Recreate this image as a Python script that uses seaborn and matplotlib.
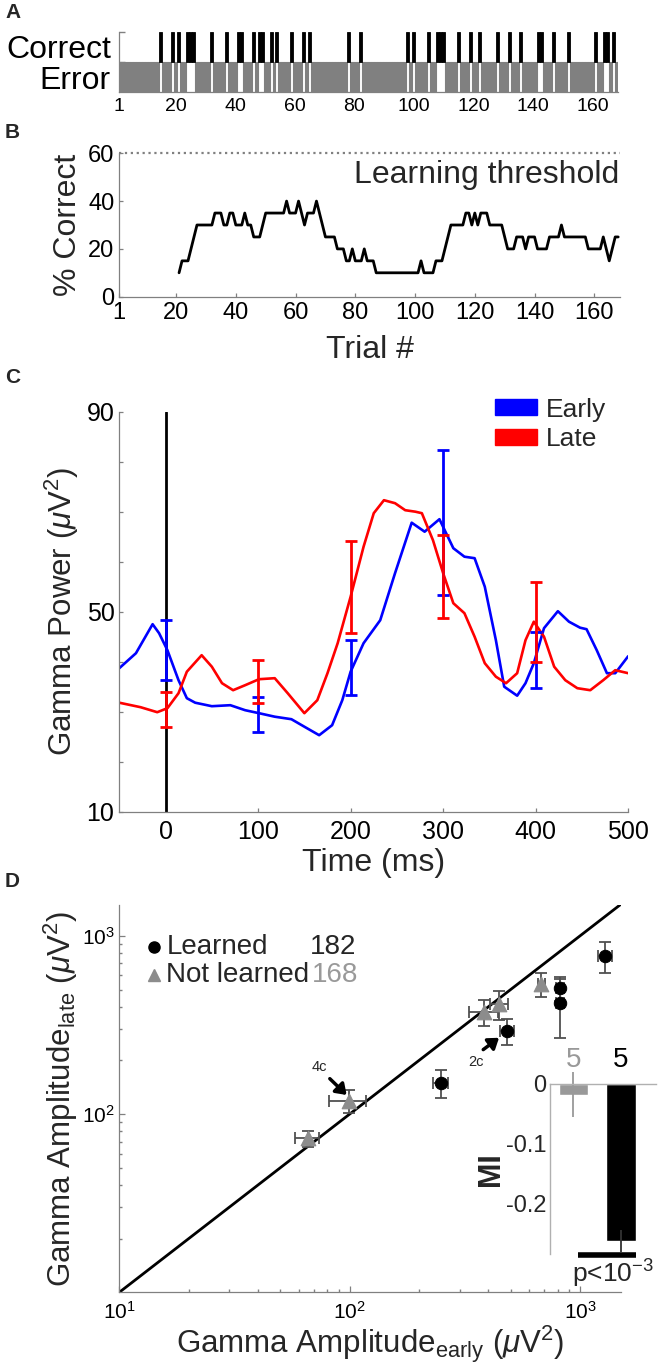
import numpy as np
import pandas as pd
import seaborn as sns
import matplotlib
matplotlib.use('Agg')
import matplotlib.pyplot as plt
from matplotlib.patches import Patch
from matplotlib.ticker import LogLocator, NullFormatter

# ---------------- data ----------------
n_trials = 168
correct_trials = [15, 19, 21, 24, 25, 26, 32, 37, 41, 42, 46, 48, 49, 52, 54, 59, 63, 65,
                  78, 82, 98, 100, 105, 108, 109, 110, 115, 119, 122, 128, 132, 136,
                  142, 143, 147, 152, 161, 164, 165, 167]
a_ticks = [1, 20, 40, 60, 80, 100, 120, 140, 160]

# sliding-window % correct, trials 21..168
b_trials = list(range(21, 169))
b_pct = [10, 15, 15, 15, 20, 25, 30, 30, 30, 30,          # 21-30
         30, 30, 35, 35, 35, 30, 30, 35, 35, 30,          # 31-40
         30, 30, 35, 30, 30, 25, 25, 25, 30, 35,          # 41-50
         35, 35, 35, 35, 35, 35, 40, 35, 35, 35,          # 51-60
         40, 35, 30, 35, 35, 35, 40, 35, 30, 25,          # 61-70
         25, 25, 25, 20, 20, 20, 15, 15, 20, 15,          # 71-80
         15, 15, 20, 15, 15, 15, 10, 10, 10, 10,          # 81-90
         10, 10, 10, 10, 10, 10, 10, 10, 10, 10,          # 91-100
         10, 15, 10, 10, 10, 10, 15, 15, 15, 20,          # 101-110
         25, 30, 30, 30, 30, 30, 35, 35, 30, 35,          # 111-120
         30, 35, 35, 35, 30, 30, 30, 30, 30, 25,          # 121-130
         20, 20, 20, 25, 25, 25, 20, 25, 25, 25,          # 131-140
         20, 20, 20, 20, 25, 25, 25, 25, 30, 25,          # 141-150
         25, 25, 25, 25, 25, 25, 25, 20, 20, 20,          # 151-160
         20, 20, 25, 20, 15, 20, 25, 25]                  # 161-168
b_threshold = 60

# gamma power time courses (ms, uV^2)
time_early = [-50, -32, -14, -7, 2, 14, 23, 32, 50, 70, 86, 101, 118, 136, 150, 166,
              180, 191, 200, 214, 232, 248, 266, 280, 296, 311, 323, 334, 345, 357,
              366, 380, 389, 398, 409, 424, 436, 448, 455, 466, 477, 486, 500]
power_early = [38.7, 41.7, 47.5, 45.7, 42.3, 36.3, 32.7, 31.8, 31.1, 31.3, 30.3, 29.7,
               29.0, 28.5, 27.0, 25.3, 27.3, 32.3, 38.0, 43.7, 48.3, 57.7, 67.8, 66.0,
               68.5, 62.7, 61.0, 60.7, 55.0, 44.3, 35.0, 33.2, 35.7, 39.7, 46.7, 50.1,
               48.0, 46.8, 46.5, 42.3, 37.7, 37.7, 41.1]
time_late = [-50, -27, -9, 2, 14, 23, 39, 50, 61, 73, 86, 101, 118, 132, 150, 164, 175,
             186, 200, 214, 225, 236, 248, 259, 270, 277, 289, 300, 311, 323, 334, 345,
             357, 368, 380, 389, 398, 409, 420, 432, 445, 459, 473, 486, 500]
power_late = [31.8, 30.9, 29.9, 30.7, 33.7, 38.0, 41.3, 39.0, 35.7, 34.3, 35.3, 36.5,
              36.7, 33.7, 29.7, 32.3, 37.7, 43.7, 53.0, 63.0, 69.7, 72.3, 71.7, 70.3,
              70.0, 69.7, 64.3, 57.7, 51.7, 49.7, 45.0, 39.7, 37.0, 35.7, 37.7, 44.3,
              48.0, 45.0, 39.0, 36.3, 34.7, 34.3, 36.3, 38.3, 37.7]
err_times = [0, 100, 200, 300, 400]
early_mid = [42.3, 29.5, 38.8, 67.8, 40.3]
early_sem = [6.0, 3.5, 5.5, 14.5, 5.6]
late_mid = [30.5, 36.0, 54.9, 57.0, 47.9]
late_sem = [3.5, 4.3, 9.2, 8.3, 8.0]

# gamma amplitude early vs late, per session
learned_x = [1288, 820, 820, 483, 249]
learned_y = [773, 507, 418, 293, 150]
learned_xerr = [95, 30, 30, 35, 18]
learned_yerr = [155, 78, 152, 50, 27]
notlearned_x = [679, 384, 445, 99.6, 65.9]
notlearned_y = [536, 375, 414, 119, 73]
notlearned_xerr = [25, 55, 40, 18, 8]
notlearned_yerr = [84, 61, 76, 17, 7.6]
n_learned, n_notlearned = 182, 168

# modulation index inset
mi_group = ['Not learned', 'Learned']
mi_value = [-0.018, -0.263]
mi_err = [0.038, 0.018]
mi_n = [5, 5]

# ---------------- style ----------------
sns.set_theme(style='ticks')
plt.rcParams['font.family'] = ['Liberation Sans', 'DejaVu Sans']
plt.rcParams['mathtext.fontset'] = 'custom'
plt.rcParams['mathtext.rm'] = 'Liberation Sans'
plt.rcParams['mathtext.it'] = 'Liberation Sans:italic'
plt.rcParams['mathtext.bf'] = 'Liberation Sans:bold'
plt.rcParams['lines.solid_joinstyle'] = 'round'

W, H = 661, 1369
fig = plt.figure(figsize=(W / 100, H / 100), dpi=100)
fig.patch.set_facecolor('white')

SPINE = '#808080'
GRAY = '#808080'


def add_ax(l, t, r, b):
    return fig.add_axes([l / W, 1 - b / H, (r - l) / W, (b - t) / H])


def style(ax, fs):
    for s in ['top', 'right']:
        ax.spines[s].set_visible(False)
    for s in ['left', 'bottom']:
        ax.spines[s].set_color(SPINE)
        ax.spines[s].set_linewidth(0.9)
    ax.tick_params(direction='in', color=SPINE, width=0.9, length=3,
                   labelsize=fs, labelcolor='black')
    ax.set_facecolor('none')


# ---------------- A ----------------
ax_a = add_ax(119.3, 31.7, 617.6, 92.3)
trials = np.arange(1, n_trials + 1)
is_corr = np.isin(trials, correct_trials)
ax_a.bar(trials[~is_corr], 1, bottom=0, width=1, color=GRAY, edgecolor=GRAY, linewidth=0.8)
ax_a.bar(trials[is_corr], 1, bottom=1, width=1, color='black', edgecolor='black', linewidth=0.6)
ax_a.set_xlim(1, 168.5)
ax_a.set_ylim(0, 2)
style(ax_a, 14)
ax_a.set_xticks(a_ticks)
ax_a.set_yticks([0.5, 1.5])
ax_a.set_yticklabels(['Error', 'Correct'], fontsize=23)
ax_a.tick_params(axis='y', length=0, pad=6)
ax_a.tick_params(axis='x', length=0, pad=4)
ax_a.set_yticks([1, 2], minor=True)
ax_a.tick_params(axis='y', which='minor', direction='in', length=4, color=SPINE)
fig.text(5 / W, 1 - 3 / H, 'A', fontsize=15, fontweight='bold', va='top')

# ---------------- B ----------------
ax_b = add_ax(119.3, 153.3, 619.7, 296.7)
sns.lineplot(x=b_trials, y=b_pct, ax=ax_b, color='black', linewidth=2)
ax_b.axhline(b_threshold, color=GRAY, ls=':', lw=1.6, clip_on=False)
ax_b.set_xlim(1, 168.5)
ax_b.set_ylim(0, 60)
style(ax_b, 17)
ax_b.set_xticks(a_ticks)
ax_b.set_yticks([0, 20, 40, 60])
ax_b.tick_params(axis='x', pad=4)
ax_b.set_xlabel('Trial #', fontsize=23, labelpad=8)
ax_b.set_ylabel('% Correct', fontsize=23, labelpad=4)
ax_b.text(1.0, 47.6, 'Learning threshold', transform=ax_b.get_yaxis_transform(),
          ha='right', va='baseline', fontsize=23)
fig.text(5 / W, 1 - 123 / H, 'B', fontsize=15, fontweight='bold', va='top')

# ---------------- C ----------------
ax_c = add_ax(119.3, 411.7, 628.2, 811.7)
ax_c.axvline(0, color='black', lw=2)
sns.lineplot(x=time_early, y=power_early, ax=ax_c, color='#0000ff', linewidth=1.9)
sns.lineplot(x=time_late, y=power_late, ax=ax_c, color='#ff0000', linewidth=1.9)
ax_c.errorbar(err_times, early_mid, yerr=early_sem, fmt='none', ecolor='#0000ff',
              elinewidth=2, capsize=4, capthick=2)
ax_c.errorbar(err_times, late_mid, yerr=late_sem, fmt='none', ecolor='#ff0000',
              elinewidth=2, capsize=4, capthick=2)
ax_c.set_xlim(-50, 500)
ax_c.set_ylim(10, 90)
style(ax_c, 18)
ax_c.set_xticks([0, 100, 200, 300, 400, 500])
ax_c.set_yticks(list(range(10, 91, 10)))
ax_c.set_yticklabels(['10', '', '', '', '50', '', '', '', '90'])
ax_c.tick_params(axis='x', pad=6)
ax_c.set_xlabel('Time (ms)', fontsize=23, labelpad=3)
ax_c.set_ylabel(r'Gamma Power ($\mu$V$^2$)', fontsize=22.5, labelpad=4)
ax_c.legend(handles=[Patch(color='#0000ff', label='Early'), Patch(color='#ff0000', label='Late')],
            loc='upper left', bbox_to_anchor=(0.738, 1.035), frameon=False, fontsize=19,
            handlelength=1.6, handleheight=0.55, handletextpad=0.35, labelspacing=0.2,
            borderpad=0, borderaxespad=0)
fig.text(5 / W, 1 - 368 / H, 'C', fontsize=15, fontweight='bold', va='top')

# ---------------- D ----------------
ax_d = add_ax(119.3, 905, 620.6, 1292.3)
ax_d.set_xscale('log')
ax_d.set_yscale('log')
ax_d.set_xlim(10, 1500)
ax_d.set_ylim(10, 1490)
ax_d.axline((10, 10), (1000, 1000), color='black', lw=2)
ax_d.errorbar(learned_x, learned_y, xerr=learned_xerr, yerr=learned_yerr, fmt='none',
              ecolor='#505050', elinewidth=1.3, capsize=4, capthick=1.3)
ax_d.errorbar(notlearned_x, notlearned_y, xerr=notlearned_xerr, yerr=notlearned_yerr,
              fmt='none', ecolor='#505050', elinewidth=1.3, capsize=4, capthick=1.3)
sns.scatterplot(x=learned_x, y=learned_y, ax=ax_d, marker='o', color='black', s=80,
                edgecolor='black', zorder=3)
sns.scatterplot(x=notlearned_x, y=notlearned_y, ax=ax_d, marker='^', color='#8c8c8c',
                s=110, edgecolor='#8c8c8c', zorder=3)
style(ax_d, 15)
ax_d.set_xticks([10, 100, 1000])
ax_d.set_xticklabels([r'$10^1$', r'$10^2$', r'$10^3$'])
ax_d.set_yticks([100, 1000])
ax_d.set_yticklabels([r'$10^2$', r'$10^3$'])
ax_d.xaxis.set_minor_locator(LogLocator(base=10, subs=np.arange(2, 10)))
ax_d.yaxis.set_minor_locator(LogLocator(base=10, subs=np.arange(2, 10)))
ax_d.xaxis.set_minor_formatter(NullFormatter())
ax_d.yaxis.set_minor_formatter(NullFormatter())
ax_d.tick_params(which='minor', direction='in', length=2, color=SPINE)
ax_d.tick_params(which='major', length=4)
ax_d.tick_params(axis='x', pad=6)
ax_d.set_xlabel(r'Gamma Amplitude$_{\mathrm{early}}$ ($\mu$V$^2$)', fontsize=22.5, labelpad=1)
ax_d.set_ylabel(r'Gamma Amplitude$_{\mathrm{late}}$ ($\mu$V$^2$)', fontsize=22.5, labelpad=1)

# legend
ax_d.plot([0.069], [0.892], 'o', color='black', ms=8, transform=ax_d.transAxes, clip_on=False)
ax_d.plot([0.069], [0.820], '^', color='#8c8c8c', ms=9, transform=ax_d.transAxes, clip_on=False)
ax_d.text(0.094, 0.892, 'Learned', transform=ax_d.transAxes, fontsize=20, va='center')
ax_d.text(0.380, 0.892, str(n_learned), transform=ax_d.transAxes, fontsize=20, va='center')
ax_d.text(0.094, 0.820, 'Not learned', transform=ax_d.transAxes, fontsize=20, va='center')
ax_d.text(0.384, 0.820, str(n_notlearned), transform=ax_d.transAxes, fontsize=20,
          va='center', color='#999999')

# arrows to example sessions
arrow_kw = dict(arrowstyle='-|>,head_width=0.35,head_length=0.5', color='black', lw=2.5,
                shrinkA=0, shrinkB=0)
ax_d.annotate('', xy=(97, 128), xytext=(82, 158), arrowprops=arrow_kw)
ax_d.text(74, 183, '4c', fontsize=10.5, ha='center', va='center')
ax_d.annotate('', xy=(445, 268), xytext=(380, 230), arrowprops=arrow_kw)
ax_d.text(352, 196, '2c', fontsize=10.5, ha='center', va='center')
fig.text(5 / W, 1 - 872 / H, 'D', fontsize=15, fontweight='bold', va='top')

# ---------------- inset MI ----------------
ax_i = add_ax(550.2, 1084, 655.6, 1254)
sns.barplot(x=mi_group, y=mi_value, hue=mi_group, palette=['#999999', 'black'],
            width=0.62, ax=ax_i, legend=False, errorbar=None)
ax_i.errorbar([0], [mi_value[0]], yerr=[mi_err[0]], fmt='none', ecolor='#999999',
              elinewidth=1.3, capsize=0, clip_on=False)
ax_i.errorbar([1], [mi_value[1]], yerr=[mi_err[1]], fmt='none', ecolor='#333333',
              elinewidth=1.3, capsize=0, clip_on=False)
ax_i.set_xlim(-0.486, 1.733)
ax_i.set_ylim(-0.285, 0)
ax_i.set_facecolor('none')
for s in ['right', 'bottom']:
    ax_i.spines[s].set_visible(False)
for s in ['left', 'top']:
    ax_i.spines[s].set_color('#b0b0b0')
    ax_i.spines[s].set_linewidth(1.0)
ax_i.set_xticks([])
ax_i.set_yticks([0, -0.1, -0.2])
ax_i.set_yticklabels(['0', '-0.1', '-0.2'])
ax_i.tick_params(axis='y', length=0, labelsize=17, pad=3)
ax_i.set_xlabel('')
ax_i.set_ylabel('MI', fontsize=22, fontweight='bold', labelpad=0)
ax_i.text(0, 0.018, str(mi_n[0]), color='#999999', ha='center', va='bottom', fontsize=20)
ax_i.text(1, 0.018, str(mi_n[1]), color='black', ha='center', va='bottom', fontsize=20)
ax_i.plot([0.09, 1.33], [-0.2864, -0.2864], color='black', lw=4, clip_on=False,
          solid_capstyle='butt')
ax_i.text(0.83, -0.292, r'p<10$^{-3}$', ha='center', va='top', fontsize=19)

fig.savefig('out.png', dpi=100)
